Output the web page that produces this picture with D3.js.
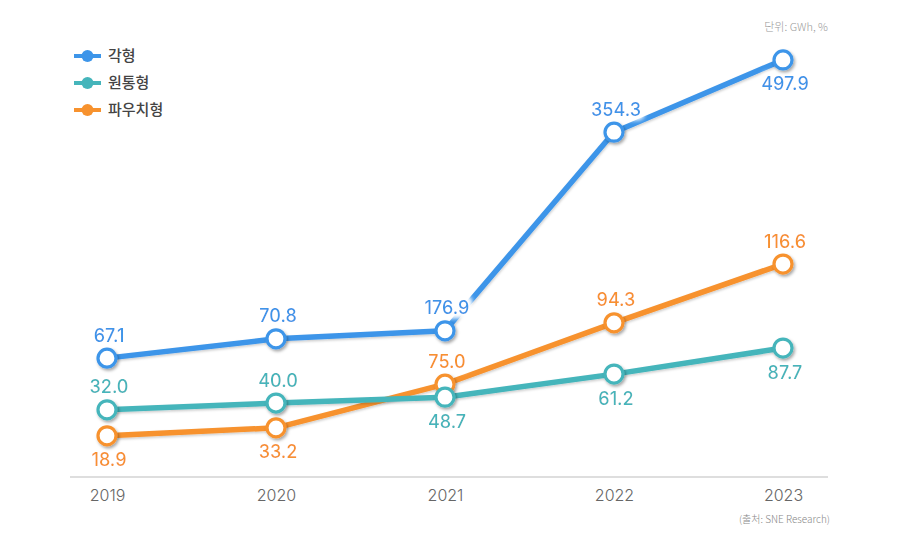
<!DOCTYPE html>
<html><head><meta charset="utf-8">
<script src="https://cdn.jsdelivr.net/npm/d3@7"></script>
<style>
html,body{margin:0;padding:0;background:#fff;}
svg{display:block;font-family:Inter,"Noto Sans CJK KR",sans-serif;}
</style></head>
<body>
<svg id="chart" width="900" height="548"></svg>
<script>
// ---- data ----
const years = ["2019","2020","2021","2022","2023"];
const seriesNames = ["각형","원통형","파우치형"];
const prismaticValues = [67.1, 70.8, 176.9, 354.3, 497.9];
const cylindricalValues = [32.0, 40.0, 48.7, 61.2, 87.7];
const pouchValues = [18.9, 33.2, 75.0, 94.3, 116.6];
// the source plots points on an illustrative (non-proportional) level scale, 0-100
const prismaticLevels = [28.3, 32.9, 34.8, 82.1, 99.3];
const cylindricalLevels = [16.0, 17.6, 19.0, 24.5, 30.7];
const pouchLevels = [9.8, 11.7, 22.1, 36.7, 50.7];
// label placement: 1 = above, -1 = below
const prismaticLabelSide = [1, 1, 1, 1, -1];
const cylindricalLabelSide = [1, 1, -1, -1, -1];
const pouchLabelSide = [-1, -1, 1, 1, 1];
const unitText = "단위: GWh, %";
const sourceText = "(출처: SNE Research)";

const colors = {"각형":"#3d95e9","원통형":"#45b5bb","파우치형":"#f7922e"};

const series = [
  {name:"각형", values:prismaticValues, levels:prismaticLevels, side:prismaticLabelSide},
  {name:"파우치형", values:pouchValues, levels:pouchLevels, side:pouchLabelSide},
  {name:"원통형", values:cylindricalValues, levels:cylindricalLevels, side:cylindricalLabelSide}
];

const svg = d3.select("#chart");
const defs = svg.append("defs");
const sh = defs.append("filter").attr("id","shadow").attr("x","-50%").attr("y","-50%").attr("width","200%").attr("height","200%");
sh.append("feDropShadow").attr("dx",1.5).attr("dy",2).attr("stdDeviation",1.6).attr("flood-color","#000").attr("flood-opacity",0.35);
const lsh = defs.append("filter").attr("id","lshadow").attr("x","-10%").attr("y","-50%").attr("width","120%").attr("height","200%");
lsh.append("feDropShadow").attr("dx",0.5).attr("dy",1.5).attr("stdDeviation",1).attr("flood-color","#000").attr("flood-opacity",0.2);
const halo = defs.append("filter").attr("id","halo").attr("x","-30%").attr("y","-50%").attr("width","160%").attr("height","200%");
halo.append("feMorphology").attr("in","SourceAlpha").attr("operator","dilate").attr("radius",3).attr("result","d");
halo.append("feGaussianBlur").attr("in","d").attr("stdDeviation",2.5).attr("result","b");
halo.append("feFlood").attr("flood-color","#fff");
halo.append("feComposite").attr("in2","b").attr("operator","in").attr("result","w");
const hm = halo.append("feMerge");
hm.append("feMergeNode").attr("in","w");
hm.append("feMergeNode").attr("in","w");
hm.append("feMergeNode").attr("in","SourceGraphic");

const x = d3.scalePoint().domain(years).range([107, 783]);
const y = d3.scaleLinear().domain([0,100]).range([477, 57]);

// axis
const xAxis = d3.axisBottom(x).tickSize(0).tickPadding(9);
const ax = svg.append("g").attr("transform","translate(0,477)").call(xAxis);
ax.select(".domain").remove();
ax.append("line").attr("x1",70).attr("x2",828).attr("y1",0).attr("y2",0).attr("stroke","#bdbdbd").attr("stroke-width",1.2);
ax.selectAll(".tick text").attr("font-size",16).attr("fill","#666").attr("font-weight",300)
  .attr("font-family","Inter,'Noto Sans CJK KR',sans-serif").attr("dy","0.95em");

const line = d3.line().x((d,i)=>x(years[i])).y(d=>y(d));

// lines
const lineG = svg.append("g");
series.forEach(s=>{
  lineG.append("path").datum(s.levels).attr("d",line)
    .attr("fill","none").attr("stroke",colors[s.name]).attr("stroke-width",5.5)
    .attr("stroke-linejoin","round").attr("filter","url(#lshadow)");
});

// labels (halo) drawn over lines, under markers
const labG = svg.append("g");
series.forEach(s=>{
  s.values.forEach((v,i)=>{
    labG.append("text")
      .attr("x", x(years[i]) + 2)
      .attr("y", y(s.levels[i]) + (s.side[i] > 0 ? -23 : 24))
      .attr("dy","0.36em")
      .attr("text-anchor","middle")
      .attr("font-size",18)
      .attr("font-weight",500)
      .attr("fill",colors[s.name])
      .attr("filter","url(#halo)")
      .text(v.toFixed(1));
  });
});

// markers
const mG = svg.append("g");
series.forEach(s=>{
  s.levels.forEach((lv,i)=>{
    mG.append("circle").attr("cx",x(years[i])).attr("cy",y(lv)).attr("r",9)
      .attr("fill","#fff").attr("stroke",colors[s.name]).attr("stroke-width",3.2)
      .attr("filter","url(#shadow)");
  });
});

// legend
const lg = svg.append("g");
seriesNames.forEach((n,i)=>{
  const cy = 56 + i*27;
  lg.append("line").attr("x1",74).attr("x2",101).attr("y1",cy).attr("y2",cy)
    .attr("stroke",colors[n]).attr("stroke-width",4);
  lg.append("circle").attr("cx",87.5).attr("cy",cy).attr("r",6).attr("fill",colors[n]);
  lg.append("text").attr("x",108).attr("y",cy).attr("dy","0.36em")
    .attr("font-size",15).attr("fill","#444").attr("font-weight",500).attr("font-family","'Noto Sans CJK KR',sans-serif").text(n);
});

svg.append("text").attr("x",828).attr("y",27).attr("text-anchor","end").attr("dy","0.35em")
  .attr("font-size",11).attr("fill","#999").attr("font-family","'Noto Sans CJK KR',sans-serif").attr("font-weight",300).text(unitText);
svg.append("text").attr("x",830).attr("y",519).attr("text-anchor","end").attr("dy","0.35em")
  .attr("font-size",10).attr("fill","#888").attr("font-family","'Noto Sans CJK KR',sans-serif").attr("font-weight",300).text(sourceText);
</script>
</body></html>
